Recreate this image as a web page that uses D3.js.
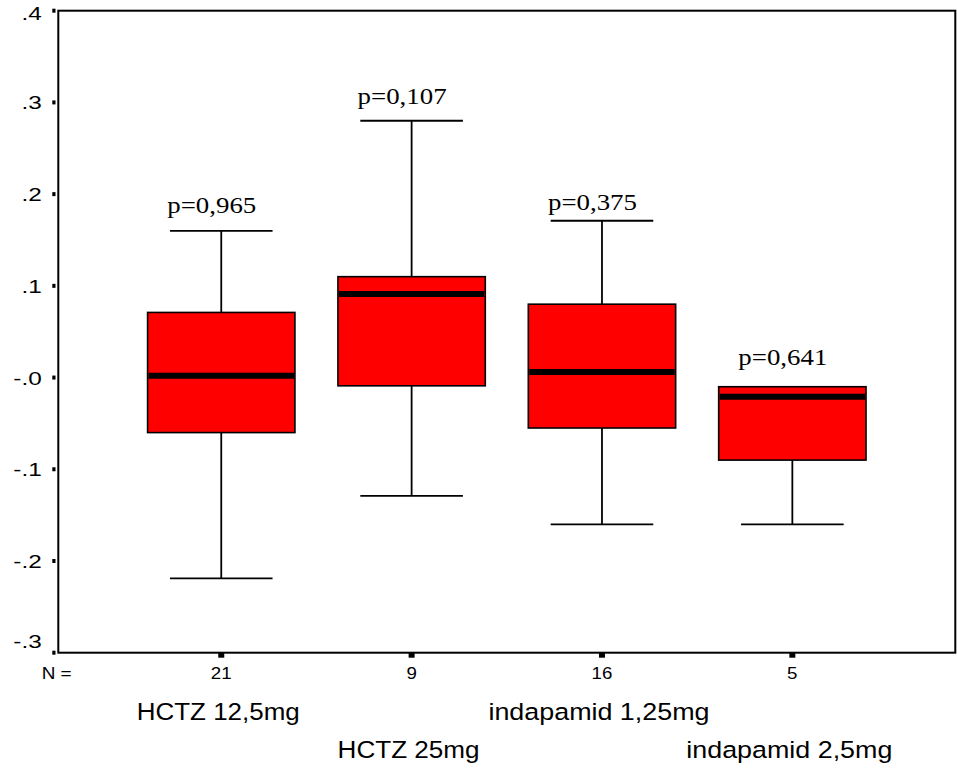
<!DOCTYPE html>
<html>
<head>
<meta charset="utf-8">
<script src="https://cdn.jsdelivr.net/npm/d3@7"></script>
<style>
  html, body { margin: 0; padding: 0; background: #fff; }
  svg { display: block; }
</style>
</head>
<body>
<script>
// ---- data ----
const categories = ["HCTZ 12,5mg", "HCTZ 25mg", "indapamid 1,25mg", "indapamid 2,5mg"];
const counts = [21, 9, 16, 5];
const mins = [-0.219, -0.129, -0.160, -0.160];
const q1s = [-0.060, -0.009, -0.055, -0.090];
const medians = [0.002, 0.091, 0.006, -0.021];
const q3s = [0.071, 0.110, 0.080, -0.010];
const maxs = [0.160, 0.280, 0.171, -0.010];
const pLabels = ["p=0,965", "p=0,107", "p=0,375", "p=0,641"];
const pLabelY = [0.179, 0.298, 0.1825, 0.0137];
const yTickValues = [0.4, 0.3, 0.2, 0.1, 0.0, -0.1, -0.2, -0.3];
const yTickLabels = [".4", ".3", ".2", ".1", "-.0", "-.1", "-.2", "-.3"];
const catLabelWidths = [163, 142, 221, 206];

const W = 957, H = 769;
const mLeft = 58.3, mRight = 955.3, mTop = 10.7, mBottom = 652.7;

const svg = d3.select("body").append("svg").attr("width", W).attr("height", H);

const x = d3.scalePoint().domain(categories).range([mLeft, mRight]).padding(0.856);
const y = d3.scaleLinear().domain([-0.3, 0.4]).range([mBottom, mTop]);
const step = x.step();
const boxW = step * 0.774;
const capW = step * 0.539;

const data = categories.map((c, i) => ({
  cat: c, n: counts[i], min: mins[i], q1: q1s[i], med: medians[i], q3: q3s[i], max: maxs[i],
  p: pLabels[i], py: pLabelY[i], lw: catLabelWidths[i], i
}));

const g = svg.append("g");
data.forEach(d => {
  const cx = x(d.cat);
  const gg = g.append("g");
  if (d.max > d.q3) {
    gg.append("line").attr("x1", cx).attr("x2", cx).attr("y1", y(d.q3)).attr("y2", y(d.max))
      .attr("stroke", "#000").attr("stroke-width", 1.8);
    gg.append("line").attr("x1", cx - capW / 2).attr("x2", cx + capW / 2).attr("y1", y(d.max)).attr("y2", y(d.max))
      .attr("stroke", "#000").attr("stroke-width", 1.8);
  }
  if (d.min < d.q1) {
    gg.append("line").attr("x1", cx).attr("x2", cx).attr("y1", y(d.q1)).attr("y2", y(d.min))
      .attr("stroke", "#000").attr("stroke-width", 1.8);
    gg.append("line").attr("x1", cx - capW / 2).attr("x2", cx + capW / 2).attr("y1", y(d.min)).attr("y2", y(d.min))
      .attr("stroke", "#000").attr("stroke-width", 1.8);
  }
  gg.append("rect").attr("x", cx - boxW / 2).attr("y", y(d.q3)).attr("width", boxW)
    .attr("height", y(d.q1) - y(d.q3)).attr("fill", "#ff0000").attr("stroke", "#000").attr("stroke-width", 1.6);
  gg.append("line").attr("x1", cx - boxW / 2 + 1).attr("x2", cx + boxW / 2 - 1).attr("y1", y(d.med)).attr("y2", y(d.med))
    .attr("stroke", "#000").attr("stroke-width", 6);
  gg.append("text").attr("x", cx - 54).attr("y", y(d.py))
    .attr("font-family", "'Liberation Serif', 'Times New Roman', serif").attr("font-size", 24)
    .attr("textLength", 89).attr("lengthAdjust", "spacingAndGlyphs")
    .attr("fill", "#000").text(d.p);
});

svg.append("rect").attr("x", mLeft).attr("y", mTop).attr("width", mRight - mLeft).attr("height", mBottom - mTop)
  .attr("fill", "none").attr("stroke", "#000").attr("stroke-width", 2);

const yt = svg.append("g");
yTickValues.forEach((v, i) => {
  const ty = y(v);
  yt.append("rect").attr("x", 52.3).attr("y", ty - 2).attr("width", 3.2).attr("height", 4).attr("fill", "#000");
  const ly = Math.min(Math.max(ty + 7, mTop + 9.6), mBottom - 4.4);
  const t = yt.append("text").attr("x", 41.7).attr("y", ly).attr("text-anchor", "end")
    .attr("font-family", "'Liberation Sans', Arial, sans-serif").attr("font-size", 19).attr("fill", "#000")
    .text(yTickLabels[i]);
  const len = t.node().getComputedTextLength();
  t.attr("textLength", len * 1.28).attr("lengthAdjust", "spacingAndGlyphs");
});

const xt = svg.append("g");
const nT = xt.append("text").attr("x", 41.7).attr("y", 678.5)
  .attr("font-family", "'Liberation Sans', Arial, sans-serif").attr("font-size", 17).attr("fill", "#000").text("N =");
nT.attr("textLength", 30).attr("lengthAdjust", "spacingAndGlyphs");
data.forEach(d => {
  const cx = x(d.cat);
  xt.append("rect").attr("x", cx - 3).attr("y", mBottom).attr("width", 6).attr("height", 5).attr("fill", "#000");
  const t = xt.append("text").attr("x", cx).attr("y", 678.5).attr("text-anchor", "middle")
    .attr("font-family", "'Liberation Sans', Arial, sans-serif").attr("font-size", 17).attr("fill", "#000")
    .text(d.n);
  const len = t.node().getComputedTextLength();
  t.attr("textLength", len * 1.1).attr("lengthAdjust", "spacingAndGlyphs");
  xt.append("text").attr("x", cx - 3).attr("y", d.i % 2 === 0 ? 719.5 : 757.7).attr("text-anchor", "middle")
    .attr("font-family", "'Liberation Sans', Arial, sans-serif").attr("font-size", 24.5).attr("fill", "#000")
    .attr("textLength", d.lw).attr("lengthAdjust", "spacingAndGlyphs")
    .text(d.cat);
});
</script>
</body>
</html>
